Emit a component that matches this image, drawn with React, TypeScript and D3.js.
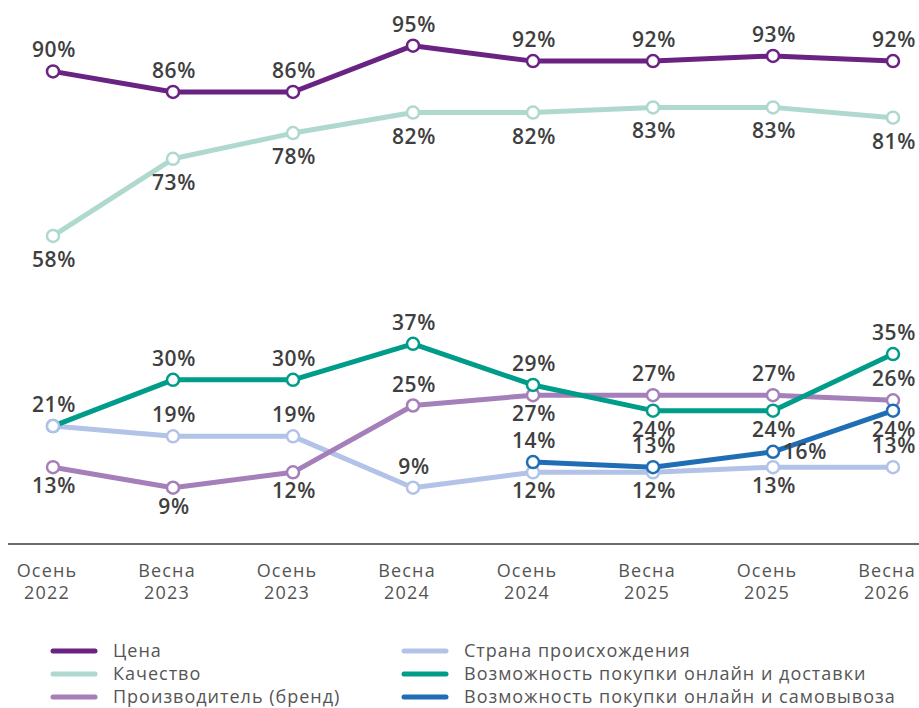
import React from "react";
import * as d3 from "d3";

const categories = ["Осень\n2022", "Весна\n2023", "Осень\n2023", "Весна\n2024", "Осень\n2024", "Весна\n2025", "Осень\n2025", "Весна\n2026"];

const seriesNames = ["Цена", "Качество", "Производитель (бренд)", "Страна происхождения", "Возможность покупки онлайн и доставки", "Возможность покупки онлайн и самовывоза"];

const priceValues = [90, 86, 86, 95, 92, 92, 93, 92];
const qualityValues = [58, 73, 78, 82, 82, 83, 83, 81];
const brandValues = [13, 9, 12, 25, 27, 27, 27, 26];
const countryValues = [21, 19, 19, 9, 12, 12, 13, 13];
const deliveryValues = [21, 30, 30, 37, 29, 24, 24, 35];
const pickupValues: (number | null)[] = [null, null, null, null, 14, 13, 16, 24];

// label placement per point: "a" above, "b" below, "r" right, "" none
const priceLabelPos = ["a", "a", "a", "a", "a", "a", "a", "a"];
const qualityLabelPos = ["b", "b", "b", "b", "b", "b", "b", "b"];
const brandLabelPos = ["b", "b", "b", "a", "b", "a", "a", "a"];
const countryLabelPos = ["", "a", "a", "a", "b", "b", "b", "a"];
const deliveryLabelPos = ["a", "a", "a", "a", "a", "b", "b", "a"];
const pickupLabelPos = ["", "", "", "", "a", "a", "r", "b"];

const colors = ["#6a2383", "#afd8cf", "#a57fb9", "#b3c3e7", "#009c8a", "#1f6db5"];

const W = 919;
const H = 708;

export default function App() {
  const x = d3.scalePoint<string>().domain(categories).range([53, 893]);
  const y = d3.scaleLinear().domain([0, 100]).range([534, 20]);

  const series = [
    { name: seriesNames[0], values: priceValues, pos: priceLabelPos, color: colors[0] },
    { name: seriesNames[1], values: qualityValues, pos: qualityLabelPos, color: colors[1] },
    { name: seriesNames[2], values: brandValues, pos: brandLabelPos, color: colors[2] },
    { name: seriesNames[3], values: countryValues, pos: countryLabelPos, color: colors[3] },
    { name: seriesNames[4], values: deliveryValues, pos: deliveryLabelPos, color: colors[4] },
    { name: seriesNames[5], values: pickupValues, pos: pickupLabelPos, color: colors[5] },
  ];
  const drawOrder = [1, 3, 2, 5, 4, 0];
  const pointOrder = [1, 2, 4, 3, 5, 0];

  const line = d3
    .line<number | null>()
    .defined((d) => d !== null)
    .x((_, i) => x(categories[i]) as number)
    .y((d) => y(d as number));

  const labelFont = "'Open Sans', sans-serif";

  return (
    <svg width={W} height={H} style={{ position: "absolute", left: 0, top: 0, background: "#fff" }}>
      <rect x={0} y={0} width={W} height={H} fill="#fff" />
      {/* axis line */}
      <line x1={8} x2={W} y1={544} y2={544} stroke="#6b6b6b" strokeWidth={2} />
      {categories.map((c) => {
        const [a, b] = c.split("\n");
        const cx = (x(c) as number) - 6;
        return (
          <text key={c} x={cx} textAnchor="middle" fontFamily={labelFont} fontSize={18} letterSpacing={1.2} fill="#555" fontWeight={400}>
            <tspan x={cx} y={577}>{a}</tspan>
            <tspan x={cx} y={599}>{b}</tspan>
          </text>
        );
      })}
      {drawOrder.map((si) => {
        const s = series[si];
        return (
          <path key={"l" + si} d={line(s.values) || ""} fill="none" stroke={s.color} strokeWidth={5} strokeLinejoin="round" strokeLinecap="round" />
        );
      })}
      {pointOrder.map((si) => {
        const s = series[si];
        return (
          <g key={"p" + si}>
            {s.values.map((v, i) =>
              v === null ? null : (
                <circle key={i} cx={x(categories[i]) as number} cy={y(v)} r={6} fill="#fff" stroke={s.color} strokeWidth={2.5} />
              )
            )}
          </g>
        );
      })}
      {series.map((s, si) => (
        <g key={"t" + si}>
          {s.values.map((v, i) => {
            const p = s.pos[i];
            if (v === null || !p) return null;
            const px = x(categories[i]) as number;
            const py = y(v);
            let tx = px + 1;
            let ty = py - 14;
            let anchor: "middle" | "start" = "middle";
            if (p === "b") ty = py + (si === 1 ? 31 : 26);
            if (p === "r") {
              tx = px + 10;
              ty = py + 7;
              anchor = "start";
            }
            return (
              <text key={i} x={tx} y={ty} textAnchor={anchor} fontFamily={labelFont} fontSize={21} letterSpacing={0.6} fontWeight={600} fill="#3f3f3f">
                {v + "%"}
              </text>
            );
          })}
        </g>
      ))}
      {/* legend */}
      {series.map((s, i) => {
        const col = i < 3 ? 0 : 1;
        const row = i % 3;
        const sx = col === 0 ? 53 : 404;
        const ly = 651 + row * 23;
        return (
          <g key={"lg" + i}>
            <line x1={sx} x2={sx + 42} y1={ly} y2={ly} stroke={s.color} strokeWidth={5} strokeLinecap="round" />
            <text x={sx + 60} y={ly + 6} fontFamily={labelFont} fontSize={18} letterSpacing={1} fill="#555">
              {s.name}
            </text>
          </g>
        );
      })}
    </svg>
  );
}
